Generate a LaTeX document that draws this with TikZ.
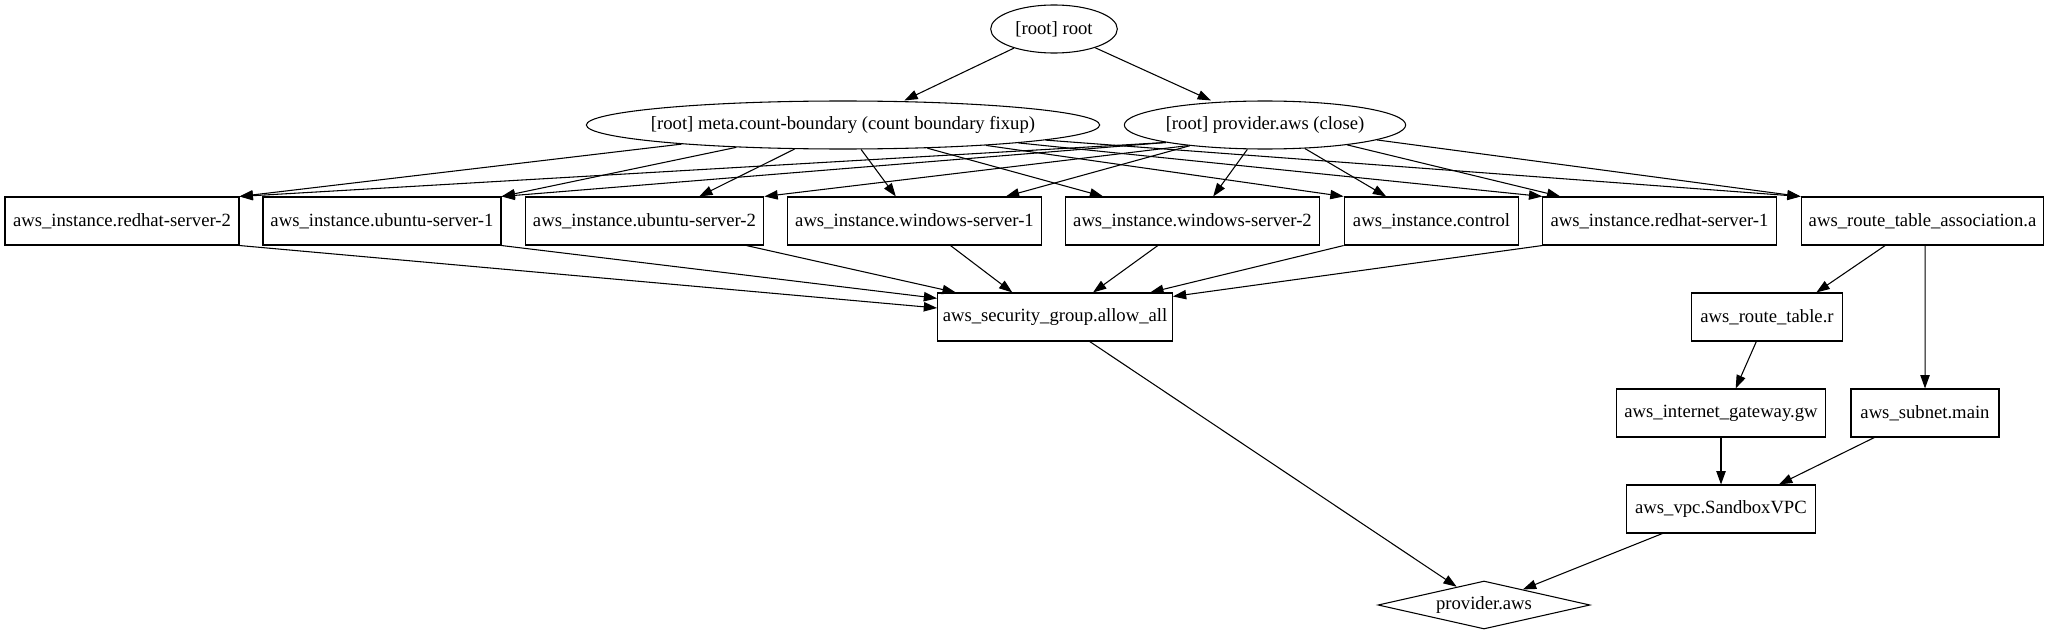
\documentclass[tikz,border=0pt]{standalone}
\usepackage{fontspec}
\setmainfont{Liberation Serif}
\usetikzlibrary{arrows.meta,shapes.geometric}

\begin{document}
\begin{tikzpicture}[x=0.75pt,y=-0.75pt,-,>={Triangle[length=10pt,width=7pt]},line width=0.8pt,font=\fontsize{14}{16}\selectfont,
  main node/.style={ellipse,draw,inner xsep=-15pt,inner ysep=0pt,minimum height=36pt},
  res node/.style={rectangle,draw,inner xsep=2pt,minimum height=36pt},
  prov node/.style={diamond,draw,inner sep=0pt,aspect=4.4,minimum width=159pt,minimum height=36pt}]

                \useasboundingbox (0,0) rectangle (2049,635);

                \node[main node, minimum width=95pt] (root) at (1054,29) {[root] root};
                \node[main node, minimum width=385pt] (meta) at (843,125) {[root] meta.count-boundary (count boundary fixup)};
                \node[main node, minimum width=211pt] (close) at (1265,125) {[root] provider.aws (close)};

                \node[res node, minimum width=175.5pt] (rh2) at (122,221) {aws\_instance.redhat-server-2};
                \node[res node, minimum width=178.5pt] (ub1) at (382,221) {aws\_instance.ubuntu-server-1};
                \node[res node, minimum width=179pt] (ub2) at (644.5,221) {aws\_instance.ubuntu-server-2};
                \node[res node, minimum width=190pt] (w1) at (914.5,221) {aws\_instance.windows-server-1};
                \node[res node, minimum width=190pt] (w2) at (1192.5,221) {aws\_instance.windows-server-2};
                \node[res node, minimum width=131pt] (ctl) at (1431.5,221) {aws\_instance.control};
                \node[res node, minimum width=175pt] (rh1) at (1659.5,221) {aws\_instance.redhat-server-1};
                \node[res node, minimum width=182pt] (rta) at (1922.5,221) {aws\_route\_table\_association.a};

                \node[res node, minimum width=176pt] (sg) at (1055,317) {aws\_security\_group.allow\_all};
                \node[res node, minimum width=113pt] (rt) at (1767,317) {aws\_route\_table.r};
                \node[res node, minimum width=157pt] (igw) at (1721,413) {aws\_internet\_gateway.gw};
                \node[res node, minimum width=111pt] (sub) at (1925,413) {aws\_subnet.main};
                \node[res node, minimum width=142pt] (vpc) at (1721,509) {aws\_vpc.SandboxVPC};
                \node[prov node] (paws) at (1484,605) {provider.aws};

                \draw[->] (root) to ([xshift=46pt]meta.north);
                \draw[->] (root) to ([xshift=-40.5pt]close.north);

                \draw[->] (meta) to (rh2.north east);
                \draw[->] (meta) to (ub1.north east);
                \draw[->] (meta) to ([xshift=41pt]ub2.north);
                \draw[->] (meta) to ([xshift=-14pt]w1.north);
                \draw[->] (meta) to ([xshift=-67pt]w2.north);
                \draw[->] (meta) to (ctl.north west);
                \draw[->] (meta) to (rh1.north west);
                \draw[->] (meta) to (rta.north west);

                \draw[->] (close.190) to (rh2.north east);
                \draw[->] (close.190) to (ub1.north east);
                \draw[->] (close.195) to (ub2.north east);
                \draw[->] (close) to ([xshift=68.5pt]w1.north);
                \draw[->] (close) to ([xshift=15.5pt]w2.north);
                \draw[->] (close) to ([xshift=-34pt]ctl.north);
                \draw[->] (close) to ([xshift=13.5pt]rh1.north west);
                \draw[->] (close) to (rta.north west);

                \draw[->] (rh2.south east) to ([yshift=6.75pt]sg.west);
                \draw[->] (ub1.south east) to ([yshift=14pt]sg.west);
                \draw[->] ([xshift=-13.5pt]ub2.south east) to ([xshift=14pt]sg.north west);
                \draw[->] ([xshift=27pt]w1.south) to ([xshift=-32pt]sg.north);
                \draw[->] ([xshift=-26pt]w2.south) to ([xshift=28.5pt]sg.north);
                \draw[->] (ctl.south west) to ([xshift=-17pt]sg.north east);
                \draw[->] (rh1.south west) to ([yshift=-3pt]sg.north east);

                \draw[->] ([xshift=26pt]sg.south) to (paws);
                \draw[->] ([xshift=-28pt]rta.south) to ([xshift=37pt]rt.north);
                \draw[->] ([xshift=2pt]rta.south) to (sub.north);
                \draw[->] ([xshift=-8pt]rt.south) to ([xshift=11pt]igw.north);
                \draw[->] (igw) to (vpc);
                \draw[->] ([xshift=-38pt]sub.south) to ([xshift=43.5pt]vpc.north);
                \draw[->] ([xshift=-44pt]vpc.south) to (paws);
\end{tikzpicture}
\end{document}
